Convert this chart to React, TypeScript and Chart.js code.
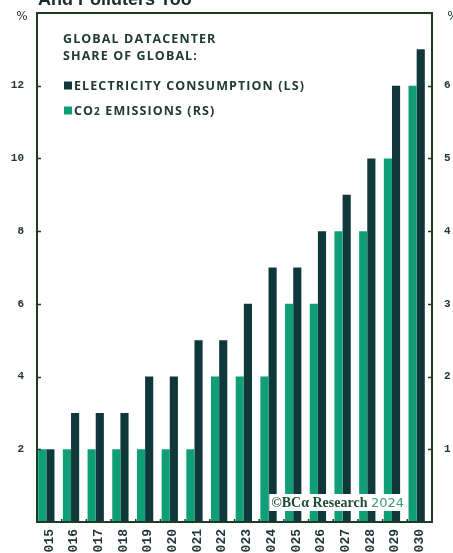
import { useEffect, useRef } from "react";
import { Chart, registerables } from "chart.js";

Chart.register(...registerables);

// Global datacenter share of global totals, %
const years = [
  "2015", "2016", "2017", "2018", "2019", "2020", "2021", "2022",
  "2023", "2024", "2025", "2026", "2027", "2028", "2029", "2030",
];
const electricityShare = [2, 3, 3, 3, 4, 4, 5, 5, 6, 7, 7, 8, 9, 10, 12, 13];
const co2Share = [1, 1, 1, 1, 1, 1, 1, 2, 2, 2, 3, 3, 4, 4, 5, 6];

const leftTicks = [2, 4, 6, 8, 10, 12];
const rightTicks = [1, 2, 3, 4, 5, 6];

const titleText = "And Polluters Too";
const legendHeader = ["GLOBAL DATACENTER", "SHARE OF GLOBAL:"];
const electricityLabel = "ELECTRICITY CONSUMPTION (LS)";
const co2Label = ["CO", "2", " EMISSIONS (RS)"];
const creditMain = "BC\u03b1 Research";
const creditYear = "2024";

const DARK = "#10373a";
const GREEN = "#0f9e76";
const FRAME = "#1c3d20";
const TEXT = "#243636";
const LEGEND_TEXT = "#213a36";
const TICK_FONT = { family: "'Liberation Mono', monospace", size: 11, weight: "bold" as const };
const LEGEND_FONT = "bold 12.5px 'Open Sans', sans-serif";
const LEGEND_SPACING = "1.1px";

const decorations = {
  id: "decorations",
  beforeDatasetsDraw(chart: any) {
    chart.ctx.save();
    chart.ctx.translate(-3, 0);
  },
  afterDatasetsDraw(chart: any) {
    chart.ctx.restore();
  },
  afterDraw(chart: any) {
    const { ctx, chartArea } = chart;
    const { left, right, top, bottom } = chartArea;
    const x = chart.scales.x;
    const y = chart.scales.y;
    const y1 = chart.scales.y1;
    ctx.save();

    // credit box
    ctx.font = "bold 14px 'Liberation Serif', serif";
    const mainW = ctx.measureText("\u00a9" + creditMain + " ").width;
    ctx.font = "13px 'DejaVu Sans', sans-serif";
    const yearW = ctx.measureText(creditYear).width;
    const boxRight = right - 25;
    const boxLeft = boxRight - mainW - yearW - 5;
    ctx.fillStyle = "#ffffff";
    ctx.fillRect(boxLeft, bottom - 28, boxRight - boxLeft, 17);
    ctx.textBaseline = "alphabetic";
    ctx.textAlign = "left";
    ctx.fillStyle = "#1f4d33";
    ctx.font = "bold 14px 'Liberation Serif', serif";
    ctx.fillText("\u00a9" + creditMain + " ", boxLeft + 2, bottom - 15);
    ctx.fillStyle = "#3a9e78";
    ctx.font = "13px 'DejaVu Sans', sans-serif";
    ctx.fillText(creditYear, boxLeft + 2 + mainW, bottom - 15);

    // frame
    ctx.strokeStyle = FRAME;
    ctx.lineWidth = 2;
    ctx.strokeRect(left, top, right - left, bottom - top);

    // inward ticks
    ctx.lineWidth = 1.5;
    ctx.beginPath();
    leftTicks.forEach((v) => {
      const py = Math.round(y.getPixelForValue(v)) + 0.5;
      ctx.moveTo(left, py);
      ctx.lineTo(left + 4, py);
    });
    rightTicks.forEach((v) => {
      const py = Math.round(y1.getPixelForValue(v)) + 0.5;
      ctx.moveTo(right, py);
      ctx.lineTo(right - 4, py);
    });
    const step = (right - left) / years.length;
    for (let i = 1; i < years.length; i++) {
      const px = x.getPixelForValue(i) - step / 2;
      ctx.moveTo(px, bottom);
      ctx.lineTo(px, bottom - 3);
    }
    ctx.stroke();

    // unit labels
    ctx.fillStyle = TEXT;
    ctx.font = "12px 'DejaVu Sans', sans-serif";
    ctx.textAlign = "center";
    ctx.textBaseline = "middle";
    ctx.fillText("%", left - 15, top + 4);
    ctx.fillText("%", right + 21, top + 4);

    // title
    ctx.textAlign = "left";
    ctx.textBaseline = "alphabetic";
    ctx.fillStyle = "#1b2b2b";
    ctx.font = "bold 18px 'Liberation Sans', sans-serif";
    ctx.fillText(titleText, left + 1, 5);

    // legend
    ctx.letterSpacing = LEGEND_SPACING;
    ctx.fillStyle = LEGEND_TEXT;
    ctx.font = LEGEND_FONT;
    const lx = left + 26;
    ctx.fillText(legendHeader[0], lx, top + 30);
    ctx.fillText(legendHeader[1], lx, top + 46.5);

    ctx.fillStyle = DARK;
    ctx.fillRect(lx + 1, top + 68.5, 8, 8);
    ctx.fillStyle = LEGEND_TEXT;
    ctx.fillText(electricityLabel, lx + 11, top + 76.5);

    ctx.fillStyle = GREEN;
    ctx.fillRect(lx + 1, top + 93.5, 8, 8);
    ctx.fillStyle = LEGEND_TEXT;
    let cx = lx + 11;
    ctx.fillText(co2Label[0], cx, top + 101.5);
    cx += ctx.measureText(co2Label[0]).width;
    ctx.font = "bold 10px 'Open Sans', sans-serif";
    ctx.fillText(co2Label[1], cx, top + 101.5);
    cx += ctx.measureText(co2Label[1]).width;
    ctx.font = LEGEND_FONT;
    ctx.fillText(co2Label[2], cx, top + 101.5);

    ctx.restore();
  },
};

export default function App() {
  const canvasRef = useRef<HTMLCanvasElement | null>(null);

  useEffect(() => {
    const canvas = canvasRef.current;
    if (!canvas) return;
    const chart = new Chart(canvas, {
      type: "bar",
      data: {
        labels: years,
        datasets: [
          {
            label: "CO2 emissions (RS)",
            data: co2Share,
            yAxisID: "y1",
            backgroundColor: GREEN,
            borderWidth: 0,
            categoryPercentage: 0.66,
            barPercentage: 1,
          },
          {
            label: "Electricity consumption (LS)",
            data: electricityShare,
            yAxisID: "y",
            backgroundColor: DARK,
            borderWidth: 0,
            categoryPercentage: 0.66,
            barPercentage: 1,
          },
        ],
      },
      options: {
        animation: false,
        responsive: false,
        maintainAspectRatio: false,
        layout: { padding: { top: 13, left: 0, right: 0, bottom: 0 } },
        plugins: {
          legend: { display: false },
          tooltip: { enabled: false },
          title: { display: false },
        },
        scales: {
          x: {
            type: "category",
            grid: { display: false, drawTicks: false },
            border: { display: false },
            ticks: {
              autoSkip: false,
              minRotation: 90,
              maxRotation: 90,
              padding: 7,
              color: TEXT,
              font: { family: "'Liberation Mono', monospace", size: 13, weight: "bold" },
            },
            afterFit: (s: any) => {
              s.height = 31;
              s.paddingLeft = 0;
              s.paddingRight = 0;
            },
          },
          y: {
            position: "left",
            min: 0,
            max: 14,
            grid: { display: false, drawTicks: false },
            border: { display: false },
            ticks: {
              stepSize: 2,
              padding: 13,
              color: TEXT,
              font: TICK_FONT,
              callback: (v: any) => (leftTicks.includes(Number(v)) ? String(v) : ""),
            },
            afterFit: (s: any) => {
              s.width = 37;
              s.paddingTop = 0;
              s.paddingBottom = 0;
            },
          },
          y1: {
            position: "right",
            min: 0,
            max: 7,
            grid: { display: false, drawTicks: false },
            border: { display: false },
            ticks: {
              stepSize: 1,
              padding: 12,
              color: TEXT,
              font: TICK_FONT,
              callback: (v: any) => (rightTicks.includes(Number(v)) ? String(v) : ""),
            },
            afterFit: (s: any) => {
              s.width = 21;
              s.paddingTop = 0;
              s.paddingBottom = 0;
            },
          },
        },
      },
      plugins: [decorations],
    });
    return () => chart.destroy();
  }, []);

  return (
    <div style={{ position: "absolute", left: 0, top: 0, width: 453, height: 553, background: "#ffffff" }}>
      <canvas ref={canvasRef} width={453} height={553} style={{ display: "block" }} />
    </div>
  );
}
